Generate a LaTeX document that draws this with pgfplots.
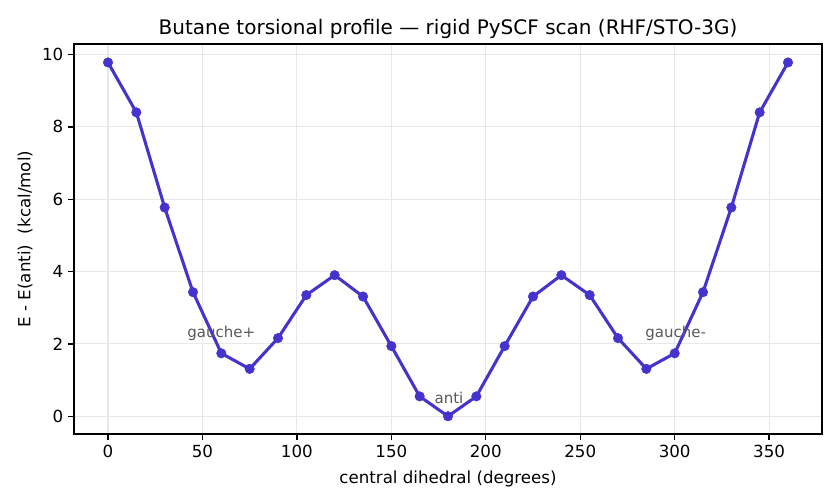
\documentclass[border=0pt]{standalone}
\usepackage{pgfplots}
\pgfplotsset{compat=1.18}
\usepackage{fontspec}
\setmainfont{DejaVu Sans}
\definecolor{linec}{HTML}{4433CC}
\begin{document}
\begin{tikzpicture}
\begin{axis}[
  at={(0,0)}, anchor=south west,
  scale only axis, width=538.56pt, height=280.8pt,
  xmin=-18, xmax=378, ymin=-0.49, ymax=10.29,
  xtick={0,50,100,150,200,250,300,350},
  ytick={0,2,4,6,8,10},
  tick align=outside, tick pos=left,
  major tick length=4.2pt,
  every tick/.style={black, line width=0.96pt},
  axis line style={line width=0.96pt},
  grid=major, grid style={gray!18, line width=0.8pt},
  /pgf/number format/assume math mode=true,
  tick label style={font=\fontsize{12}{14}\selectfont},
  label style={font=\fontsize{12}{14}\selectfont},
  xlabel={central dihedral (degrees)},
  ylabel={E - E(anti)\ \ (kcal/mol)},
  title={Butane torsional profile — rigid PySCF scan (RHF/STO-3G)},
  title style={font=\fontsize{14.4}{17}\selectfont, yshift=-6pt},
  xlabel style={yshift=-3pt},
  ylabel style={yshift=0pt},
]
\addplot[linec, line width=2.2pt, mark=*, mark size=3.4pt, mark options={fill=linec, draw=linec, line width=0.4pt}] coordinates {
(0,9.78) (15,8.40) (30,5.77) (45,3.43) (60,1.74) (75,1.31) (90,2.16) (105,3.35) (120,3.90) (135,3.31) (150,1.94) (165,0.55) (180,0)
(195,0.55) (210,1.94) (225,3.31) (240,3.90) (255,3.35) (270,2.16) (285,1.31) (300,1.74) (315,3.43) (330,5.77) (345,8.40) (360,9.78)
};
\node[text=black!65, font=\fontsize{10.8}{13}\selectfont] at (axis cs:60,2.28) {gauche+};
\node[text=black!65, font=\fontsize{10.8}{13}\selectfont] at (axis cs:180.5,0.52) {anti};
\node[text=black!65, font=\fontsize{10.8}{13}\selectfont] at (axis cs:300.5,2.28) {gauche-};
\end{axis}
\pgfresetboundingbox
\useasboundingbox (-53.28pt,-50.4pt) rectangle (551.52pt,312.48pt);
\end{tikzpicture}
\end{document}
